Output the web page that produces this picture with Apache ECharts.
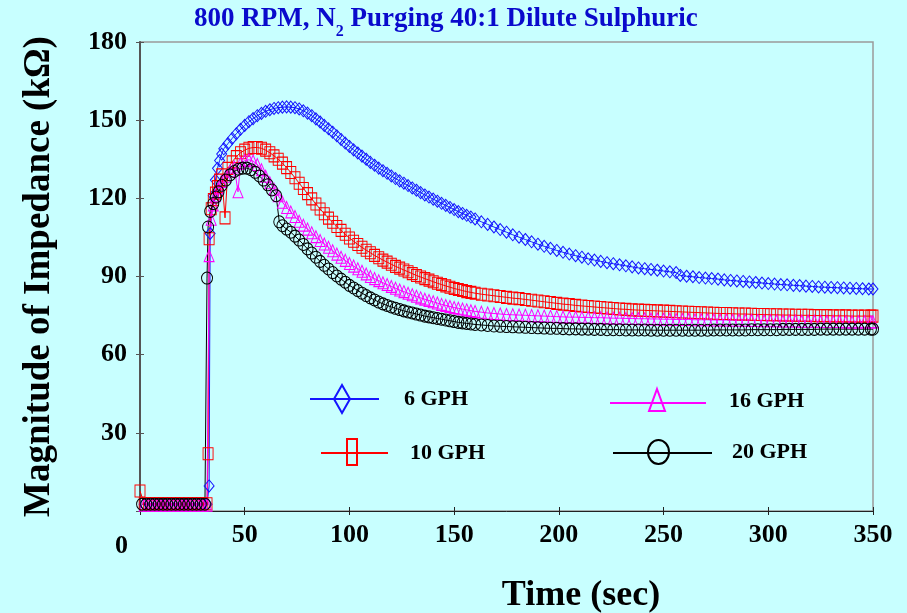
<!DOCTYPE html>
<html>
<head>
<meta charset="utf-8">
<script src="https://cdn.jsdelivr.net/npm/echarts@6/dist/echarts.min.js"></script>
<style>html,body{margin:0;padding:0;background:#C8FFFF;}#c{width:907px;height:613px;}</style>
</head>
<body>
<div id="c"></div>
<script>
// ---- data: [time (s), |Z| (kOhm)] ----
const gph6 = [[2,2.6],[4,2.6],[6,2.6],[8,2.6],[10,2.6],[12,2.6],[14,2.6],[16,2.6],[18,2.6],[20,2.6],[22,2.6],[24,2.6],[26,2.6],[28,2.6],[30,2.6],[32,2.6],
[33,9.6],[33.5,106.5],[35,121],[36,127],[37,131.5],[38,134.5],[39,137],[40,139],[42,141],[44,143],[46,144.8],[48,146.5],[50,148],[52,149.4],[54,150.6],[56,151.7],[58,152.6],[60,153.4],[62,154],[64,154.5],[66,154.8],[68,155],[70,155.1],[72,155],[74,154.8],[76,154.3],[78,153.6],[80,152.7],[82,151.7],[84,150.5],[86,149.3],[88,148],[90,146.7],[92,145.4],[94,144],[96,142.6],[98,141.2],[100,139.9],[102,138.6],[104,137.4],[106,136.2],[108,135],[110,133.8],[112,132.7],[114,131.6],[116,130.6],[118,129.6],[120,128.6],[122,127.6],[124,126.7],[126,125.8],[128,124.9],[130,124],[132,123.1],[134,122.2],[136,121.3],[138,120.5],[140,119.7],[142,118.9],[144,118.1],[146,117.3],[148,116.5],[150,115.7],[152,114.9],[154,114.2],[156,113.5],[158,112.8],[160,112.1],
[163,111],[166,110],[169,109],[172,108],[175,107],[178,106],[181,105.1],[184,104.2],[187,103.3],[190,102.4],[193,101.6],[196,100.8],[199,100],[202,99.3],[205,98.6],[208,98],[211,97.4],[214,96.8],[217,96.3],[220,95.8],[223,95.3],[226,94.9],[229,94.5],[232,94.1],[235,93.7],[238,93.3],[241,93],[244,92.7],[247,92.4],[250,92.1],[253,91.8],[256,91.5],[258,90.4],[261,90.1],[264,89.9],[267,89.6],[270,89.4],[273,89.2],[276,89],[279,88.7],[282,88.5],[285,88.3],[288,88.1],[291,87.9],[294,87.7],[297,87.5],[300,87.3],[303,87.1],[306,86.9],[309,86.8],[312,86.6],[315,86.5],[318,86.3],[321,86.2],[324,86],[327,85.9],[330,85.8],[333,85.7],[336,85.6],[339,85.5],[342,85.4],[345,85.3],[348,85.2],[350,85.2]];

const gph10 = [[0,7.7],[2,2.8],[4,2.8],[6,2.8],[8,2.8],[10,2.8],[12,2.8],[14,2.8],[16,2.8],[18,2.8],[20,2.8],[22,2.8],[24,2.8],[26,2.8],[28,2.8],[30,2.8],[32,2.8],
[32.5,22],[33,104.5],[34,116],[35,119.5],[36,122],[37,124.5],[38,127],[39,129],[40.6,112.5],[42,131.5],[44,134],[46,136],[48,137.5],[50,138.5],[52,139.2],[54,139.5],[56,139.5],[58,139.2],[60,138.5],[62,137.5],[64,136.3],[66,135],[68,133.5],[70,131.8],[72,129.9],[74,127.9],[76,125.8],[78,123.8],[80,121.8],[82,119.8],[84,117.8],[86,115.9],[88,114.1],[90,112.4],[92,110.8],[94,109.2],[96,107.7],[98,106.2],[100,104.8],[102,103.5],[104,102.3],[106,101.2],[108,100.1],[110,99.1],[112,98.1],[114,97.2],[116,96.3],[118,95.5],[120,94.7],[122,93.9],[124,93.2],[126,92.5],[128,91.8],[130,91.1],[132,90.4],[134,89.8],[136,89.2],[138,88.6],[140,88],[142,87.4],[144,86.9],[146,86.4],[148,85.9],[150,85.4],[152,85],[154,84.6],[156,84.2],[158,83.9],[160,83.6],
[163,83.2],[166,82.9],[169,82.6],[172,82.3],[175,82],[178,81.7],[181,81.5],[184,81.2],[187,80.9],[190,80.6],[193,80.3],[196,80],[199,79.7],[202,79.4],[205,79.2],[208,78.9],[211,78.7],[214,78.5],[217,78.3],[220,78.1],[223,77.9],[226,77.7],[229,77.5],[232,77.4],[235,77.2],[238,77.1],[241,77],[244,76.9],[247,76.8],[250,76.7],[253,76.6],[256,76.5],[259,76.4],[262,76.3],[265,76.2],[268,76.1],[271,76],[274,75.9],[277,75.8],[280,75.8],[283,75.7],[286,75.6],[289,75.6],[292,75.5],[295,75.4],[298,75.4],[301,75.3],[304,75.3],[307,75.2],[310,75.2],[313,75.1],[316,75.1],[319,75.1],[322,75],[325,75],[328,75],[331,74.9],[334,74.9],[337,74.9],[340,74.8],[343,74.8],[346,74.8],[349,74.8],[350,74.8]];

const gph16 = [[2,2.2],[4,2.2],[6,2.2],[8,2.2],[10,2.2],[12,2.2],[14,2.2],[16,2.2],[18,2.2],[20,2.2],[22,2.2],[24,2.2],[26,2.2],[28,2.2],[30,2.2],[32,2.2],
[33,98],[34,112],[35,117.5],[36,121],[37.5,124],[39,126.5],[41,128.5],[43,130.5],[45,132],[46.8,122.5],[48,133.5],[50,134.5],[52,134.8],[54,134.3],[56,133],[58,131],[60,128.5],[62,126],[64,123.5],[66,121],[68,118.5],[70,116.5],[72,114.8],[74,113],[76,111.2],[78,109.7],[80,108.2],[82,106.8],[84,105.3],[86,103.8],[88,102.5],[90,101.2],[92,99.9],[94,98.6],[96,97.4],[98,96.2],[100,95],[102,94],[104,93],[106,92],[108,91],[110,90],[112,89.2],[114,88.4],[116,87.6],[118,86.9],[120,86.2],[122,85.5],[124,84.8],[126,84.2],[128,83.6],[130,83],[132,82.4],[134,81.8],[136,81.3],[138,80.8],[140,80.3],[142,79.8],[144,79.3],[146,78.9],[148,78.5],[150,78.1],[152,77.8],[154,77.5],[156,77.2],[158,76.9],[160,76.6],
[163,76.3],[166,76],[169,75.8],[172,75.6],[175,75.4],[178,75.3],[181,75.2],[184,75.1],[187,75],[190,74.9],[193,74.8],[196,74.7],[199,74.6],[202,74.5],[205,74.4],[208,74.4],[211,74.3],[214,74.3],[217,74.2],[220,74.2],[223,74.1],[226,74],[229,74],[232,73.9],[235,73.9],[238,73.8],[241,73.8],[244,73.7],[247,73.7],[250,73.6],[253,73.6],[256,73.5],[259,73.5],[262,73.5],[265,73.4],[268,73.4],[271,73.4],[274,73.3],[277,73.3],[280,73.3],[283,73.2],[286,73.2],[289,73.2],[292,73.1],[295,73.1],[298,73],[301,73],[304,73],[307,72.9],[310,72.9],[313,72.9],[316,72.8],[319,72.8],[322,72.8],[325,72.7],[328,72.7],[331,72.7],[334,72.7],[337,72.6],[340,72.6],[343,72.6],[346,72.6],[349,72.6],[350,72.6]];

const gph20 = [[1,2.6],[3,2.6],[5,2.6],[7,2.6],[9,2.6],[11,2.6],[13,2.6],[15,2.6],[17,2.6],[19,2.6],[21,2.6],[23,2.6],[25,2.6],[27,2.6],[29,2.6],[31,2.6],
[32,89.4],[32.5,109],[33.5,115],[35,118],[36.3,120.5],[37.5,122.5],[39,125],[41,127],[43,129],[45,130.3],[47,131.2],[49,131.6],[51,131.6],[53,131],[55,130],[57,128.6],[59,127],[61,125.2],[63,123.2],[65,121],[66.5,111],[68,109.5],[70,108.2],[72,107],[74,105.5],[76,104],[78,102.3],[80,100.6],[82,99],[84,97.4],[86,95.8],[88,94.3],[90,92.9],[92,91.5],[94,90.2],[96,89],[98,87.8],[100,86.6],[102,85.6],[104,84.6],[106,83.6],[108,82.7],[110,81.8],[112,81],[114,80.2],[116,79.5],[118,78.9],[120,78.3],[122,77.8],[124,77.3],[126,76.8],[128,76.4],[130,76],[132,75.6],[134,75.2],[136,74.8],[138,74.5],[140,74.2],[142,73.9],[144,73.6],[146,73.3],[148,73],[150,72.7],[152,72.4],[154,72.2],[156,72],[158,71.8],[160,71.6],
[163,71.4],[166,71.2],[169,71],[172,70.9],[175,70.8],[178,70.7],[181,70.6],[184,70.5],[187,70.4],[190,70.3],[193,70.2],[196,70.1],[199,70.1],[202,70],[205,69.9],[208,69.9],[211,69.8],[214,69.8],[217,69.7],[220,69.7],[223,69.6],[226,69.6],[229,69.6],[232,69.5],[235,69.5],[238,69.5],[241,69.5],[244,69.4],[247,69.4],[250,69.4],[253,69.4],[256,69.4],[259,69.4],[262,69.4],[265,69.4],[268,69.4],[271,69.4],[274,69.5],[277,69.5],[280,69.5],[283,69.5],[286,69.5],[289,69.5],[292,69.6],[295,69.6],[298,69.6],[301,69.6],[304,69.6],[307,69.7],[310,69.7],[313,69.7],[316,69.7],[319,69.7],[322,69.7],[325,69.8],[328,69.8],[331,69.8],[334,69.8],[337,69.8],[340,69.8],[343,69.8],[346,69.8],[349,69.8],[350,69.8]];

const seriesNames = ['6 GPH', '10 GPH', '16 GPH', '20 GPH'];
const xTicks = {min: 0, max: 350, interval: 50};
const yTicks = {min: 0, max: 180, interval: 30};

const SERIF = '"Liberation Serif","Times New Roman",serif';
const colors = ['#1414FF', '#FF0000', '#FF00FF', '#000000'];
const symbols = ['diamond', 'rect', 'triangle', 'circle'];
const datasets = [gph6, gph10, gph16, gph20];

const chart = echarts.init(document.getElementById('c'), null, {renderer: 'canvas'});

const legendDefs = [
  {left: 309, top: 383, w: 89, icon: 'path://M0,0M89,30M0,15L69,15M32,1L40,15L32,29L24,15Z'},
  {left: 320, top: 437, w: 84, icon: 'path://M0,0M84,30M0,15L67,15M26,1L36,1L36,27L26,27Z'},
  {left: 609, top: 385, w: 114, icon: 'path://M0,0M114,30M0,17L96,17M47,3L55,25L39,25Z'},
  {left: 612, top: 436, w: 114, icon: 'path://M0,0M114,30M0,16L99,16M35,15A10.5,12 0 1,1 56,15A10.5,12 0 1,1 35,15Z'}
];

const option = {
  backgroundColor: '#C8FFFF',
  animation: false,
  title: {
    text: '{a|800 RPM, N}{s|2}{a| Purging 40:1 Dilute Sulphuric}',
    left: 194, top: 6, padding: 0,
    textStyle: {
      rich: {
        a: {fontFamily: SERIF, fontWeight: 'bold', fontSize: 27, color: '#0A0ACC', lineHeight: 28, verticalAlign: 'top'},
        s: {fontFamily: SERIF, fontWeight: 'bold', fontSize: 16, color: '#0A0ACC', lineHeight: 16, padding: [18, 0, 0, 0], verticalAlign: 'top'}
      }
    }
  },
  legend: legendDefs.map((d, i) => ({
    left: d.left, top: d.top, padding: 0, itemGap: 0,
    itemWidth: d.w, itemHeight: 30, selectedMode: false,
    textStyle: {fontFamily: SERIF, fontWeight: 'bold', fontSize: 22, color: '#000'},
    data: [{name: seriesNames[i], icon: d.icon,
      itemStyle: {color: 'rgba(0,0,0,0)', borderColor: colors[i], borderWidth: 2}}]
  })),
  grid: {left: 140, right: 34, top: 42, bottom: 102, show: true, borderColor: '#9A9A9A', borderWidth: 1.5, backgroundColor: 'rgba(0,0,0,0)'},
  xAxis: [
    {type: 'value', min: xTicks.min, max: xTicks.max, interval: xTicks.interval,
     axisLine: {show: true, lineStyle: {color: '#222', width: 1}},
     axisTick: {show: true, length: 4, lineStyle: {color: '#222'}},
     splitLine: {show: false},
     axisLabel: {margin: 11, formatter: v => (v === 0 ? '' : String(v)), fontFamily: SERIF, fontWeight: 'bold', fontSize: 26, color: '#000'}},
    {type: 'value', min: xTicks.min, max: xTicks.max, interval: xTicks.interval, position: 'bottom',
     axisLine: {show: false}, axisLabel: {show: false}, splitLine: {show: false},
     axisTick: {show: true, inside: true, length: 4, lineStyle: {color: '#222'}}}
  ],
  yAxis: [
    {type: 'value', min: yTicks.min, max: yTicks.max, interval: yTicks.interval,
     name: 'Magnitude of Impedance (kΩ)', nameLocation: 'middle', nameRotate: 90, nameGap: 82,
     nameTextStyle: {fontFamily: SERIF, fontWeight: 'bold', fontSize: 37, color: '#000'},
     axisLine: {show: true, lineStyle: {color: '#555', width: 2}},
     axisTick: {show: true, length: 4, lineStyle: {color: '#555'}},
     splitLine: {show: false},
     axisLabel: {margin: 13, formatter: v => (v === 0 ? '' : String(v)), fontFamily: SERIF, fontWeight: 'bold', fontSize: 26, color: '#000'}},
    {type: 'value', min: yTicks.min, max: yTicks.max, interval: yTicks.interval, position: 'left',
     axisLine: {show: false}, axisLabel: {show: false}, splitLine: {show: false},
     axisTick: {show: true, inside: true, length: 4, lineStyle: {color: '#555'}}}
  ],
  graphic: [
    {type: 'text', x: 121.5, y: 546, style: {text: '0', font: 'bold 26px ' + SERIF, fill: '#000', align: 'center', verticalAlign: 'middle'}},
    {type: 'text', x: 581, y: 596, style: {text: 'Time (sec)', font: 'bold 36px ' + SERIF, fill: '#000', align: 'center', verticalAlign: 'middle'}}
  ],
  series: datasets.map((d, i) => ({
    type: 'line', name: seriesNames[i], data: d,
    symbol: symbols[i], symbolSize: i === 3 ? [11, 12] : [10, 12],
    showSymbol: true, emphasis: {disabled: true},
    itemStyle: {color: 'rgba(0,0,0,0)', borderColor: colors[i], borderWidth: 1},
    lineStyle: {color: colors[i], width: 1}
  }))
};
chart.setOption(option);
</script>
</body>
</html>
